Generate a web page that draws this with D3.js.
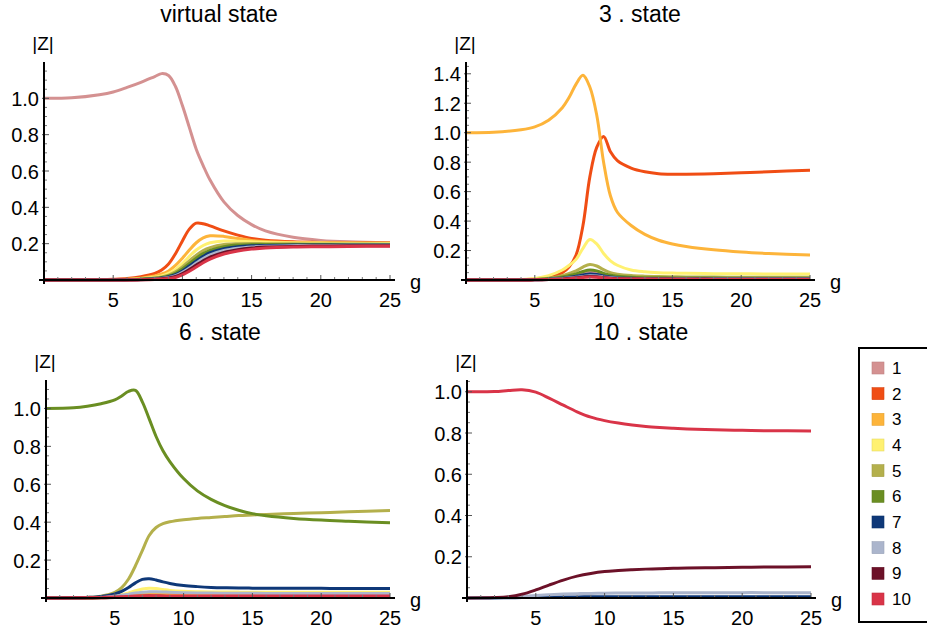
<!DOCTYPE html>
<html>
<head>
<meta charset="utf-8">
<script src="https://cdn.jsdelivr.net/npm/d3@7"></script>
<style>
  body { margin: 0; background: #fff; }
  svg { display: block; font-family: "Liberation Sans", Arial, sans-serif; }
</style>
</head>
<body>
<svg id="chart" width="927" height="635"></svg>
<script>
// legend entries and colours
const stateNames  = ["1", "2", "3", "4", "5", "6", "7", "8", "9", "10"];
const stateColors = ["#d49191", "#f04d14", "#fdb43a", "#fff171", "#b4b04c",
                     "#6a8e22", "#0e3878", "#abb5cc", "#6c1128", "#d93448"];
const panelTitles = ["virtual state", "3 . state", "6 . state", "10 . state"];

// ---- virtual state ----
const gVirtual = [0, 2, 4, 5, 6, 7, 8, 8.5, 9, 9.5, 10, 10.5, 11, 11.5, 12, 13, 14, 15, 16, 18, 20, 22, 25];
const zVirtual = [
  [1.0, 1.003, 1.02, 1.035, 1.06, 1.088, 1.12, 1.136, 1.126, 1.065, 0.96, 0.84, 0.72, 0.63, 0.55, 0.43, 0.355, 0.305, 0.27, 0.235, 0.218, 0.21, 0.205],
  [0, 0, 0.002, 0.004, 0.008, 0.018, 0.036, 0.055, 0.088, 0.145, 0.215, 0.28, 0.313, 0.31, 0.298, 0.27, 0.247, 0.229, 0.219, 0.21, 0.207, 0.205, 0.204],
  [0, 0, 0.001, 0.002, 0.004, 0.01, 0.022, 0.033, 0.05, 0.08, 0.12, 0.165, 0.205, 0.232, 0.243, 0.24, 0.228, 0.218, 0.212, 0.207, 0.205, 0.204, 0.203],
  [0, 0, 0.001, 0.002, 0.003, 0.007, 0.015, 0.023, 0.036, 0.058, 0.09, 0.13, 0.165, 0.19, 0.205, 0.215, 0.213, 0.21, 0.207, 0.204, 0.203, 0.202, 0.201],
  [0, 0, 0, 0.001, 0.002, 0.005, 0.011, 0.017, 0.027, 0.045, 0.072, 0.105, 0.137, 0.162, 0.178, 0.195, 0.2, 0.201, 0.2, 0.199, 0.198, 0.198, 0.197],
  [0, 0, 0, 0.001, 0.002, 0.004, 0.009, 0.014, 0.022, 0.037, 0.06, 0.09, 0.12, 0.145, 0.163, 0.183, 0.192, 0.195, 0.196, 0.196, 0.196, 0.195, 0.195],
  [0, 0, 0, 0, 0.001, 0.003, 0.007, 0.011, 0.018, 0.03, 0.05, 0.077, 0.105, 0.13, 0.15, 0.172, 0.183, 0.188, 0.19, 0.192, 0.193, 0.193, 0.193],
  [0, 0, 0, 0, 0.001, 0.002, 0.005, 0.009, 0.014, 0.024, 0.042, 0.066, 0.093, 0.118, 0.138, 0.162, 0.175, 0.182, 0.186, 0.189, 0.19, 0.191, 0.191],
  [0, 0, 0, 0, 0, 0.001, 0.004, 0.007, 0.011, 0.019, 0.035, 0.057, 0.082, 0.106, 0.126, 0.152, 0.167, 0.176, 0.181, 0.185, 0.187, 0.188, 0.189],
  [0, 0, 0, 0, 0, 0.001, 0.003, 0.005, 0.008, 0.014, 0.028, 0.048, 0.072, 0.095, 0.115, 0.143, 0.16, 0.17, 0.176, 0.181, 0.183, 0.185, 0.186]
];

// ---- 3. state ----
const gState3 = [0, 2, 4, 5, 6, 7, 7.5, 8, 8.5, 9, 9.5, 10, 10.5, 11, 12, 13, 14, 15, 16, 18, 20, 22, 25];
const zState3 = [
  [0, 0, 0.001, 0.003, 0.007, 0.017, 0.026, 0.037, 0.05, 0.056, 0.05, 0.036, 0.026, 0.02, 0.014, 0.011, 0.01, 0.009, 0.009, 0.008, 0.008, 0.008, 0.008],
  [0, 0, 0.002, 0.006, 0.018, 0.05, 0.09, 0.17, 0.37, 0.7, 0.9, 0.975, 0.87, 0.81, 0.76, 0.735, 0.722, 0.718, 0.718, 0.722, 0.728, 0.735, 0.745],
  [1.0, 1.003, 1.02, 1.04, 1.085, 1.17, 1.24, 1.33, 1.39, 1.31, 1.12, 0.8, 0.57, 0.46, 0.37, 0.31, 0.27, 0.245, 0.228, 0.205, 0.19, 0.18, 0.17],
  [0, 0, 0.003, 0.01, 0.03, 0.068, 0.1, 0.14, 0.215, 0.275, 0.245, 0.18, 0.13, 0.1, 0.068, 0.056, 0.05, 0.047, 0.045, 0.043, 0.042, 0.041, 0.04],
  [0, 0, 0.001, 0.004, 0.012, 0.03, 0.045, 0.062, 0.088, 0.105, 0.095, 0.07, 0.05, 0.04, 0.03, 0.026, 0.024, 0.022, 0.021, 0.02, 0.019, 0.019, 0.018],
  [0, 0, 0.001, 0.003, 0.008, 0.02, 0.03, 0.042, 0.058, 0.068, 0.062, 0.045, 0.033, 0.026, 0.019, 0.016, 0.015, 0.014, 0.013, 0.013, 0.012, 0.012, 0.012],
  [0, 0, 0, 0.002, 0.005, 0.012, 0.018, 0.025, 0.034, 0.04, 0.037, 0.028, 0.02, 0.016, 0.012, 0.01, 0.009, 0.009, 0.008, 0.008, 0.008, 0.008, 0.008],
  [0, 0, 0, 0.001, 0.004, 0.009, 0.013, 0.018, 0.024, 0.029, 0.027, 0.021, 0.015, 0.012, 0.009, 0.008, 0.007, 0.007, 0.006, 0.006, 0.006, 0.006, 0.006],
  [0, 0, 0, 0.001, 0.003, 0.007, 0.011, 0.015, 0.02, 0.024, 0.022, 0.017, 0.012, 0.01, 0.008, 0.007, 0.006, 0.006, 0.005, 0.005, 0.005, 0.005, 0.005],
  [0, 0, 0, 0.001, 0.003, 0.006, 0.009, 0.013, 0.017, 0.02, 0.019, 0.015, 0.011, 0.009, 0.007, 0.006, 0.005, 0.005, 0.005, 0.004, 0.004, 0.004, 0.004]
];

// ---- 6. state ----
const gState6 = [0, 2, 3, 4, 5, 5.5, 6, 6.5, 7, 7.5, 8, 8.5, 9, 10, 11, 12, 13, 14, 15, 16, 18, 20, 22, 25];
const zState6 = [
  [0, 0, 0.001, 0.002, 0.006, 0.01, 0.015, 0.02, 0.024, 0.025, 0.023, 0.02, 0.018, 0.016, 0.015, 0.014, 0.014, 0.013, 0.013, 0.013, 0.013, 0.013, 0.013, 0.013],
  [0, 0, 0, 0.001, 0.004, 0.006, 0.009, 0.012, 0.014, 0.015, 0.014, 0.013, 0.012, 0.011, 0.01, 0.01, 0.01, 0.01, 0.01, 0.01, 0.01, 0.01, 0.01, 0.01],
  [0, 0, 0.001, 0.002, 0.006, 0.009, 0.013, 0.017, 0.02, 0.021, 0.02, 0.018, 0.017, 0.015, 0.014, 0.014, 0.013, 0.013, 0.013, 0.013, 0.013, 0.013, 0.013, 0.013],
  [0, 0, 0.001, 0.003, 0.01, 0.017, 0.027, 0.038, 0.047, 0.052, 0.05, 0.045, 0.04, 0.035, 0.033, 0.032, 0.031, 0.031, 0.03, 0.03, 0.03, 0.03, 0.03, 0.03],
  [0, 0.001, 0.003, 0.01, 0.03, 0.055, 0.1, 0.17, 0.25, 0.33, 0.372, 0.392, 0.402, 0.413, 0.42, 0.425, 0.43, 0.435, 0.438, 0.441, 0.446, 0.45, 0.455, 0.462],
  [1.0, 1.004, 1.012, 1.025, 1.045, 1.066, 1.09, 1.095, 1.035, 0.945, 0.852, 0.777, 0.72, 0.63, 0.565, 0.52, 0.487, 0.463, 0.445, 0.434, 0.42, 0.411, 0.405, 0.397],
  [0, 0.001, 0.003, 0.008, 0.022, 0.035, 0.055, 0.08, 0.098, 0.102, 0.095, 0.085, 0.077, 0.066, 0.06, 0.056, 0.054, 0.053, 0.052, 0.052, 0.051, 0.051, 0.05, 0.05],
  [0, 0, 0.001, 0.003, 0.01, 0.014, 0.02, 0.026, 0.03, 0.033, 0.033, 0.032, 0.03, 0.028, 0.027, 0.026, 0.025, 0.025, 0.025, 0.024, 0.024, 0.024, 0.024, 0.024],
  [0, 0, 0, 0.001, 0.003, 0.004, 0.006, 0.008, 0.009, 0.01, 0.009, 0.009, 0.008, 0.008, 0.007, 0.007, 0.007, 0.007, 0.007, 0.007, 0.007, 0.007, 0.007, 0.007],
  [0, 0.001, 0.002, 0.003, 0.005, 0.006, 0.008, 0.01, 0.011, 0.012, 0.012, 0.011, 0.011, 0.011, 0.01, 0.01, 0.01, 0.01, 0.01, 0.01, 0.01, 0.01, 0.01, 0.01]
];

// ---- 10. state (states 1-6 stay on the axis) ----
const gState10 = [0, 2, 3, 4, 5, 6, 7, 8, 9, 10, 11, 12, 13, 14, 15, 16, 18, 20, 22, 25];
const zState10 = [
  null, null, null, null, null, null,
  [0, 0, 0.001, 0.002, 0.003, 0.004, 0.005, 0.005, 0.006, 0.006, 0.006, 0.006, 0.006, 0.006, 0.006, 0.006, 0.006, 0.006, 0.006, 0.006],
  [0, 0.001, 0.003, 0.007, 0.012, 0.016, 0.019, 0.021, 0.022, 0.023, 0.024, 0.024, 0.024, 0.025, 0.025, 0.025, 0.025, 0.026, 0.026, 0.026],
  [0, 0.002, 0.006, 0.018, 0.039, 0.064, 0.087, 0.106, 0.119, 0.128, 0.133, 0.137, 0.14, 0.142, 0.144, 0.145, 0.147, 0.149, 0.15, 0.152],
  [1.0, 1.001, 1.006, 1.01, 0.998, 0.968, 0.935, 0.903, 0.877, 0.86, 0.848, 0.839, 0.832, 0.827, 0.823, 0.82, 0.816, 0.813, 0.811, 0.81]
];

const yTicksVirtual = [0.2, 0.4, 0.6, 0.8, 1.0];
const yTicksState3  = [0.2, 0.4, 0.6, 0.8, 1.0, 1.2, 1.4];
const xTicks        = [5, 10, 15, 20, 25];

// panel layout (pixels)
const panels = [
  { title: panelTitles[0], g: gVirtual, z: zVirtual, yTicks: yTicksVirtual, yMax: 1.2,   left: 44,  right: 390, bottom: 280, top: 62 },
  { title: panelTitles[1], g: gState3,  z: zState3,  yTicks: yTicksState3,  yMax: 1.48,  left: 466, right: 810, bottom: 280, top: 62 },
  { title: panelTitles[2], g: gState6,  z: zState6,  yTicks: yTicksVirtual, yMax: 1.15,  left: 46,  right: 390, bottom: 598, top: 380 },
  { title: panelTitles[3], g: gState10, z: zState10, yTicks: yTicksVirtual, yMax: 1.057, left: 467, right: 811, bottom: 598, top: 380 }
];

const svg = d3.select("#chart");
const fmt = d3.format(".1f");

panels.forEach(p => {
  const x = d3.scaleLinear().domain([0, 25]).range([p.left, p.right]);
  const y = d3.scaleLinear().domain([0, p.yMax]).range([p.bottom, p.top]);
  const gp = svg.append("g");

  // curves
  const line = d3.line()
    .x(d => x(d[0]))
    .y(d => y(d[1]))
    .curve(d3.curveCatmullRom.alpha(0.5));

  p.z.forEach((vals, i) => {
    if (!vals) return;
    const pts = vals.map((v, k) => [p.g[k], v]);
    gp.append("path")
      .attr("d", line(pts))
      .attr("fill", "none")
      .attr("stroke", stateColors[i])
      .attr("stroke-width", 3)
      .attr("stroke-linejoin", "round");
  });

  // minor ticks
  const xMinor = d3.range(1, 25).filter(v => v % 5 !== 0);
  gp.selectAll(".xminor").data(xMinor).enter().append("line")
    .attr("x1", d => x(d)).attr("x2", d => x(d))
    .attr("y1", p.bottom).attr("y2", p.bottom - 3)
    .attr("stroke", "#777").attr("stroke-width", 1);
  gp.selectAll(".xmajor").data(xTicks).enter().append("line")
    .attr("x1", d => x(d)).attr("x2", d => x(d))
    .attr("y1", p.bottom).attr("y2", p.bottom - 5)
    .attr("stroke", "#555").attr("stroke-width", 1);

  const yMinor = d3.range(0.05, p.yMax, 0.05).filter(v => Math.abs(v * 5 - Math.round(v * 5)) > 1e-6);
  gp.selectAll(".yminor").data(yMinor).enter().append("line")
    .attr("x1", p.left).attr("x2", p.left + 3)
    .attr("y1", d => y(d)).attr("y2", d => y(d))
    .attr("stroke", "#777").attr("stroke-width", 1);
  gp.selectAll(".ymajor").data(p.yTicks).enter().append("line")
    .attr("x1", p.left - 2).attr("x2", p.left + 5)
    .attr("y1", d => y(d)).attr("y2", d => y(d))
    .attr("stroke", "#555").attr("stroke-width", 1);

  // axes
  gp.append("line")
    .attr("x1", p.left - 5).attr("x2", p.right + 5)
    .attr("y1", p.bottom).attr("y2", p.bottom)
    .attr("stroke", "#000").attr("stroke-width", 2);
  gp.append("line")
    .attr("x1", p.left).attr("x2", p.left)
    .attr("y1", p.bottom + 4).attr("y2", p.top)
    .attr("stroke", "#000").attr("stroke-width", 2);

  // tick labels
  gp.selectAll(".xlab").data(xTicks).enter().append("text")
    .attr("x", d => x(d)).attr("y", p.bottom + 27)
    .attr("text-anchor", "middle")
    .attr("font-size", 20)
    .text(d => d);
  gp.selectAll(".ylab").data(p.yTicks).enter().append("text")
    .attr("x", p.left - 5).attr("y", d => y(d) + 7.5)
    .attr("text-anchor", "end")
    .attr("font-size", 20)
    .text(d => fmt(d));

  // axis labels and title
  gp.append("text")
    .attr("x", p.left - 1).attr("y", p.top - 12)
    .attr("text-anchor", "middle")
    .attr("font-size", 19)
    .text("|Z|");
  gp.append("text")
    .attr("x", p.right + 20).attr("y", p.bottom + 9)
    .attr("font-size", 20)
    .text("g");
  gp.append("text")
    .attr("x", (p.left + p.right) / 2 + 2).attr("y", p.top - 40)
    .attr("text-anchor", "middle")
    .attr("font-size", 23)
    .text(p.title);
});

// legend
const legend = svg.append("g");
legend.append("rect")
  .attr("x", 859).attr("y", 348)
  .attr("width", 80).attr("height", 274)
  .attr("fill", "#fff")
  .attr("stroke", "#000").attr("stroke-width", 2);

const ly = d3.scaleLinear().domain([0, 9]).range([368, 599]);
stateNames.forEach((name, i) => {
  legend.append("rect")
    .attr("x", 872).attr("y", ly(i) - 6)
    .attr("width", 12).attr("height", 12)
    .attr("fill", stateColors[i])
    .attr("stroke", d3.color(stateColors[i]).darker(0.3))
    .attr("stroke-width", 0.6);
  legend.append("text")
    .attr("x", 892).attr("y", ly(i) + 6)
    .attr("font-size", 17)
    .text(name);
});
</script>
</body>
</html>
